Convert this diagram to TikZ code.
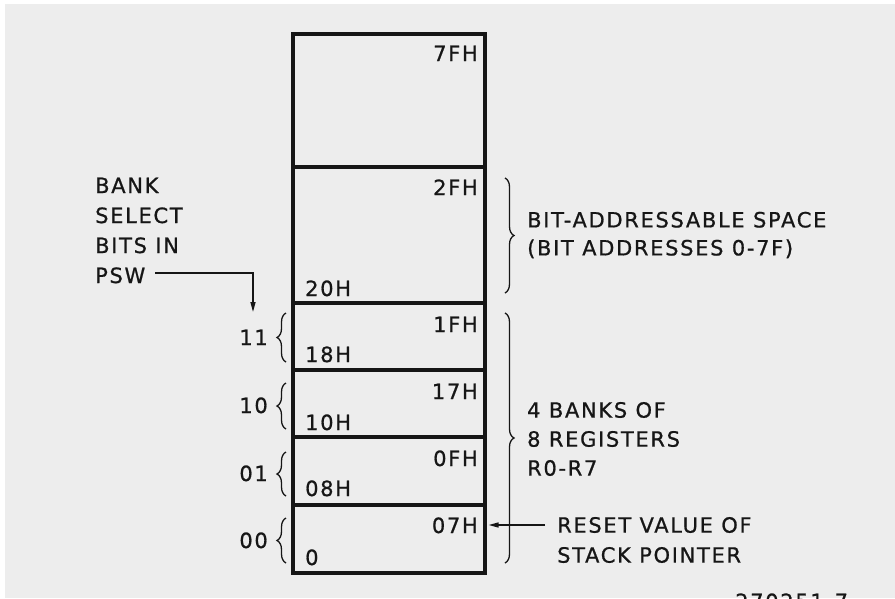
\documentclass[tikz,border=0pt]{standalone}
\usepackage{fontspec}
\setmainfont{DejaVu Sans}[LetterSpace=8,FakeBold=0.8]
\usetikzlibrary{decorations.pathreplacing,arrows.meta}
\definecolor{bg}{RGB}{237,237,237}
\definecolor{ink}{RGB}{22,22,22}
\begin{document}
\begin{tikzpicture}[x=1pt,y=-1pt,
  font=\fontsize{21}{30}\selectfont,
  cell/.style={draw=ink, line width=3.6pt, minimum width=192pt, inner sep=0pt},
  lab/.style={inner sep=0pt, text=ink},
  blk/.style={inner sep=0pt, text=ink, align=left, anchor=west},
  brc/.style={draw=ink, line width=1.3pt, decorate, decoration={brace, amplitude=9pt}},
  arr/.style={draw=ink, line width=1.4pt, -{Triangle[length=10pt,width=5pt]}}]
\useasboundingbox (0,0) rectangle (895,598);
\fill[white] (0,0) rectangle (895,598);
\fill[bg] (5,4) rectangle (895,598);
% memory cells
\node[cell, minimum height=133pt] (r7) at (389,100.5) {};
\node[cell, minimum height=136pt] (r2) at (389,235) {};
\node[cell, minimum height=67pt] (b3) at (389,336.5) {};
\node[cell, minimum height=67pt] (b2) at (389,403.5) {};
\node[cell, minimum height=68pt] (b1) at (389,471) {};
\node[cell, minimum height=68pt] (b0) at (389,539) {};
% addresses
\node[lab, anchor=base east] (a7f) at (478,61) {7FH};
\node[lab, anchor=base east] (a2f) at (478,195) {2FH};
\node[lab, anchor=base west] (a20) at (305,296) {20H};
\node[lab, anchor=base east] (a1f) at (478,332) {1FH};
\node[lab, anchor=base west] (a18) at (305,362) {18H};
\node[lab, anchor=base east] (a17) at (478,399) {17H};
\node[lab, anchor=base west] (a10) at (305,430) {10H};
\node[lab, anchor=base east] (a0f) at (478,466) {0FH};
\node[lab, anchor=base west] (a08) at (305,496) {08H};
\node[lab, anchor=base east] (a07) at (478,533) {07H};
\node[lab, anchor=base west] (a00) at (305,565) {0};
% bank select labels and braces
\node[lab, anchor=base east] (s11) at (268,345) {11};
\node[lab, anchor=base east] (s10) at (268,413) {10};
\node[lab, anchor=base east] (s01) at (268,481) {01};
\node[lab, anchor=base east] (s00) at (268,548) {00};
\draw[brc] (286,362) -- (286,313);
\draw[brc] (286,429) -- (286,383);
\draw[brc] (286,496) -- (286,452);
\draw[brc] (286,563) -- (286,518);
% right braces
\draw[brc] (505,178) -- (505,293);
\draw[brc] (505,313) -- (505,563);
% text blocks
\node[blk] (psw) at (95,230.5) {BANK\\SELECT\\BITS IN\\PSW};
\node[blk, font=\fontsize{21}{28}\selectfont] (bitsp) at (527,235) {BIT-ADDRESSABLE SPACE\\(BIT ADDRESSES 0-7F)};
\node[blk, font=\fontsize{21}{29}\selectfont] (banks) at (527,439) {4 BANKS OF\\8 REGISTERS\\R0-R7};
\node[blk] (reset) at (557,540) {RESET VALUE OF\\STACK POINTER};
\node[lab, anchor=base west] (fig) at (735,609) {270251-7};
% arrows
\coordinate (pswend) at (155,273);
\coordinate (bktip) at (253,312);
\draw[arr] (pswend) -| (bktip);
\coordinate (rstart) at (545,525);
\draw[arr, shorten >=1.8pt] (rstart) -- (b0.east |- rstart);
\end{tikzpicture}
\end{document}
